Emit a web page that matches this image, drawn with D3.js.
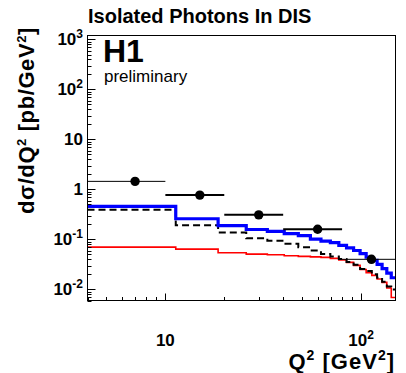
<!DOCTYPE html>
<html><head><meta charset="utf-8">
<script src="https://cdn.jsdelivr.net/npm/d3@7"></script>
<style>html,body{margin:0;padding:0;background:#fff;} svg{display:block;font-family:"Liberation Sans",Arial,Helvetica,sans-serif;}</style>
</head><body><svg id="c" width="406" height="373"></svg>
<script>
// ---- data ----
const binEdges = [4, 11.3, 18.6, 25.9, 33.2, 40.5, 47.8, 55.1, 62.4, 69.7, 77, 84.3, 91.6, 98.9, 106.2, 113.5, 120.8, 128.1, 135.4, 142.7, 150];
const totalPred = [0.457, 0.259, 0.188, 0.158, 0.145, 0.130, 0.119, 0.101, 0.0925, 0.086, 0.076, 0.068, 0.060, 0.052, 0.0443, 0.038, 0.0316, 0.026, 0.0212, 0.0171];
const dashedPred = [0.393, 0.193, 0.138, 0.106, 0.094, 0.082, 0.070, 0.060, 0.051, 0.0457, 0.0404, 0.0355, 0.0312, 0.0257, 0.0234, 0.020, 0.0171, 0.0143, 0.0115, 0.0100];
const redPred = [0.0702, 0.064, 0.0542, 0.0508, 0.0494, 0.0472, 0.0457, 0.0447, 0.0437, 0.0417, 0.0389, 0.0347, 0.0302, 0.0251, 0.0217, 0.0191, 0.0162, 0.0138, 0.0107, 0.0069];
const dataQ2 = [7, 15, 30, 60, 113];
const dataLo = [4, 10, 20, 40, 80];
const dataHi = [10, 20, 40, 80, 150];
const dataXsec = [1.45, 0.77, 0.31, 0.16, 0.040];
const yTickValues = [0.01, 0.1, 1, 10, 100, 1000];
const yTickBase = ["10", "10", "1", "10", "10", "10"];
const yTickExp = ["-2", "-1", "", "", "2", "3"];
const xTickValues = [10, 100];
const xTickBase = ["10", "10"];
const xTickExp = ["", "2"];
const xDomain = [4, 150];
const yDomain = [0.006, 1200];

// ---- styles ----
const errStroke = [1, 2, 2, 2, 1];
const FL = 87.5, FR = 395.5, FT = 35.5, FB = 300.5;

const svg = d3.select("#c");
const x = d3.scaleLog().domain(xDomain).range([FL, FR]);
const y = d3.scaleLog().domain(yDomain).range([FB, FT]);

svg.append("defs").append("clipPath").attr("id", "clip")
  .append("rect").attr("x", FL).attr("y", FT).attr("width", FR - FL).attr("height", FB - FT);

const plot = svg.append("g").attr("clip-path", "url(#clip)");

function stepPts(vals) {
  const pts = vals.map((v, i) => [binEdges[i], v]);
  pts.push([binEdges[vals.length], vals[vals.length - 1]]);
  return pts;
}
const line = d3.line().x(d => x(d[0])).y(d => y(d[1])).curve(d3.curveStepAfter);

plot.append("path").attr("d", line(stepPts(redPred))).attr("fill", "none")
  .attr("stroke", "#ff0000").attr("stroke-width", 1.6);
plot.append("path").attr("d", line(stepPts(dashedPred))).attr("fill", "none")
  .attr("stroke", "#000").attr("stroke-width", 2).attr("stroke-dasharray", "7,4");
plot.append("path").attr("d", line(stepPts(totalPred))).attr("fill", "none")
  .attr("stroke", "#0000ff").attr("stroke-width", 3.2);

// data points
dataQ2.forEach((q, i) => {
  plot.append("line").attr("x1", x(dataLo[i])).attr("x2", x(dataHi[i]))
    .attr("y1", y(dataXsec[i])).attr("y2", y(dataXsec[i]))
    .attr("stroke", "#000").attr("stroke-width", errStroke[i]);
  plot.append("circle").attr("cx", x(q)).attr("cy", y(dataXsec[i])).attr("r", 4.7).attr("fill", "#000");
});

// frame
svg.append("rect").attr("x", FL).attr("y", FT).attr("width", FR - FL).attr("height", FB - FT)
  .attr("fill", "none").attr("stroke", "#000").attr("stroke-width", 1);

// ticks
const isMajor = v => Math.abs(Math.log10(v) - Math.round(Math.log10(v))) < 1e-9;
y.ticks().forEach(v => {
  const yy = Math.round(y(v)) + 0.5;
  svg.append("line").attr("x1", FL).attr("x2", FL + (isMajor(v) ? 8 : 4))
    .attr("y1", yy).attr("y2", yy).attr("stroke", "#000").attr("stroke-width", 1);
});
x.ticks().forEach(v => {
  const xx = Math.round(x(v)) + 0.5;
  svg.append("line").attr("y1", FB).attr("y2", FB - (isMajor(v) ? 7 : 3.5))
    .attr("x1", xx).attr("x2", xx).attr("stroke", "#000").attr("stroke-width", 1);
});

// tick labels
yTickValues.forEach((v, i) => {
  const t = svg.append("text").attr("x", 83).attr("y", y(v) + 6)
    .attr("text-anchor", "end").attr("font-size", 17).attr("font-weight", "bold");
  t.append("tspan").text(yTickBase[i]);
  if (yTickExp[i]) t.append("tspan").attr("dy", -7).attr("font-size", 12).text(yTickExp[i]);
});
xTickValues.forEach((v, i) => {
  const t = svg.append("text").attr("x", x(v)).attr("y", 346)
    .attr("text-anchor", "middle").attr("font-size", 17).attr("font-weight", "bold");
  t.append("tspan").text(xTickBase[i]);
  if (xTickExp[i]) t.append("tspan").attr("dy", -7).attr("font-size", 12).text(xTickExp[i]);
});

// axis titles
const xt = svg.append("text").attr("x", 395).attr("y", 369).attr("text-anchor", "end")
  .attr("font-size", 22).attr("font-weight", "bold").attr("letter-spacing", 1);
xt.append("tspan").text("Q");
xt.append("tspan").attr("dy", -9).attr("font-size", 14).text("2");
xt.append("tspan").attr("dy", 9).text(" [GeV");
xt.append("tspan").attr("dy", -9).attr("font-size", 14).text("2");
xt.append("tspan").attr("dy", 9).text("]");

const yt = svg.append("text").attr("transform", "translate(34,27) rotate(-90)").attr("text-anchor", "end")
  .attr("font-size", 22).attr("font-weight", "bold").attr("letter-spacing", 0.6);
yt.append("tspan").text("dσ/dQ");
yt.append("tspan").attr("dy", -8).attr("font-size", 13).text("2");
yt.append("tspan").attr("dy", 8).text(" [pb/GeV");
yt.append("tspan").attr("dy", -8).attr("font-size", 13).text("2");
yt.append("tspan").attr("dy", 8).text("]");

// titles
svg.append("text").attr("x", 88).attr("y", 23).attr("font-size", 20).attr("font-weight", "bold")
  .text("Isolated Photons In DIS");
svg.append("text").attr("x", 103).attr("y", 61.5).attr("font-size", 32).attr("font-weight", "bold").text("H1");
svg.append("text").attr("x", 104).attr("y", 81.5).attr("font-size", 17).text("preliminary");
</script></body></html>
